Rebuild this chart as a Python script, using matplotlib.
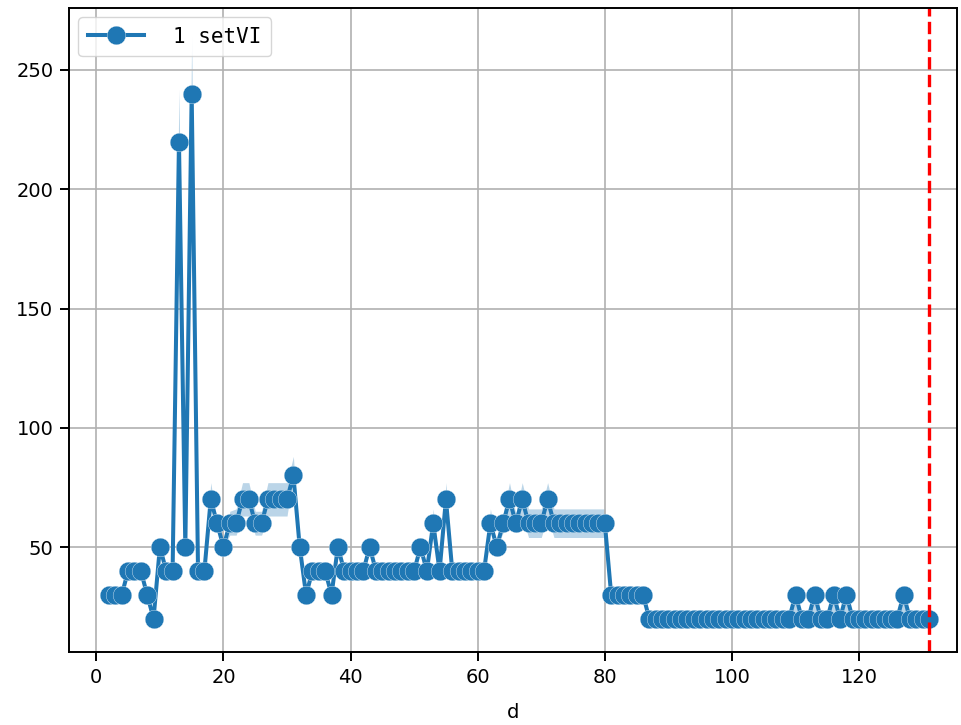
import numpy as np
import matplotlib
matplotlib.use("Agg")
import matplotlib.pyplot as plt

# day index (x) and value per day
days = np.arange(2, 132)
values = [
    30, 30, 30, 40, 40, 40, 30, 20, 50, 40,          # 2-11
    40, 220, 50, 240, 40, 40, 70, 60, 50, 60,        # 12-21
    60, 70, 70, 60, 60, 70, 70, 70, 70, 80,          # 22-31
    50, 30, 40, 40, 40, 30, 50, 40, 40, 40,          # 32-41
    40, 50, 40, 40, 40, 40, 40, 40, 40, 50,          # 42-51
    40, 60, 40, 70, 40, 40, 40, 40, 40, 40,          # 52-61
    60, 50, 60, 70, 60, 70, 60, 60, 60, 70,          # 62-71
    60, 60, 60, 60, 60, 60, 60, 60, 60, 30,          # 72-81
    30, 30, 30, 30, 30, 20, 20, 20, 20, 20,          # 82-91
    20, 20, 20, 20, 20, 20, 20, 20, 20, 20,          # 92-101
    20, 20, 20, 20, 20, 20, 20, 20, 30, 20,          # 102-111
    20, 30, 20, 20, 30, 20, 30, 20, 20, 20,          # 112-121
    20, 20, 20, 20, 20, 30, 20, 20, 20, 20,          # 122-131
]

# confidence band (lower / upper) per day
ci_low = [
    30, 30, 30, 40, 40, 40, 30, 20, 50, 40,
    40, 220, 50, 240, 40, 40, 70, 60, 50, 55,
    55, 63, 63, 55, 55, 63, 63, 63, 63, 80,
    50, 30, 40, 40, 40, 30, 50, 40, 40, 40,
    40, 50, 40, 40, 40, 40, 40, 40, 40, 50,
    40, 60, 40, 70, 40, 40, 40, 40, 40, 40,
    58, 50, 56, 63, 56, 63, 54, 54, 54, 63,
    54, 54, 54, 54, 54, 54, 54, 54, 54, 30,
    30, 30, 30, 30, 30, 20, 20, 20, 20, 20,
    20, 20, 20, 20, 20, 20, 20, 20, 20, 20,
    20, 20, 20, 20, 20, 20, 20, 20, 21, 20,
    20, 21, 20, 20, 21, 20, 21, 20, 20, 20,
    20, 20, 20, 20, 20, 21, 20, 20, 20, 20,
]
ci_high = [
    30, 30, 30, 40, 40, 40, 30, 20, 50, 40,
    40, 242, 50, 264, 40, 40, 77, 60, 50, 65,
    66, 77, 77, 65, 65, 77, 77, 77, 77, 88,
    50, 30, 40, 40, 40, 30, 51, 40, 40, 40,
    40, 53, 40, 40, 40, 40, 40, 40, 40, 54,
    40, 66, 40, 77, 40, 40, 40, 40, 40, 40,
    66, 50, 64, 77, 64, 77, 66, 66, 66, 77,
    66, 66, 66, 66, 66, 66, 66, 66, 66, 30,
    30, 30, 30, 30, 30, 20, 20, 20, 20, 20,
    20, 20, 20, 20, 20, 20, 20, 20, 20, 20,
    20, 20, 20, 20, 20, 20, 20, 20, 30, 20,
    20, 30, 20, 20, 30, 20, 30, 20, 20, 20,
    20, 20, 20, 20, 20, 30, 20, 20, 20, 20,
]
cutoff_day = 131
label = "1 setVI"

color = "#1f77b4"
fig = plt.figure(figsize=(9.61, 7.25), dpi=100)
ax = fig.add_axes([0.0718, 0.1007, 0.9240, 0.8883])

ax.fill_between(days, ci_low, ci_high, color=color, alpha=0.3, linewidth=0)
ax.plot(days, values, color=color, linewidth=2.9, marker="o", markersize=13.5,
        markeredgecolor="white", markeredgewidth=0.25, label=label)
ax.axvline(cutoff_day, color="red", linestyle="--", linewidth=2.4)

ax.set_xlim(-4.3, 135.4)
ax.set_ylim(6, 276)
ax.grid(True, color="#b0b0b0", linewidth=1.2)
ax.set_xlabel("d", fontsize=14, labelpad=12)
ax.tick_params(labelsize=14, length=6.3, width=1.4, pad=5)
for s in ax.spines.values():
    s.set_linewidth(1.4)

ax.legend(loc="upper left", prop={"family": "DejaVu Sans Mono", "size": 15},
          handlelength=2.7, handletextpad=1.4, borderaxespad=0.45,
          borderpad=0.45)

fig.savefig("out.png", dpi=100)
